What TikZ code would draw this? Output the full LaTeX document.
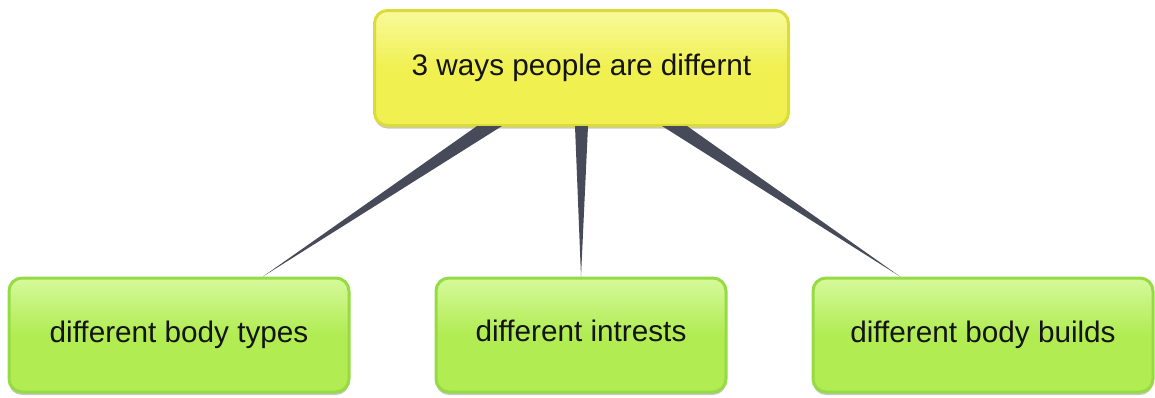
\documentclass[tikz,border=0pt]{standalone}
\usepackage{fontspec}
\setmainfont{Liberation Sans}
\usetikzlibrary{calc,shadows}
\definecolor{yfill}{HTML}{F0F050}
\definecolor{ytop}{HTML}{F9F99C}
\definecolor{yborder}{HTML}{DCDC38}
\definecolor{gfill}{HTML}{B0EC52}
\definecolor{gtop}{HTML}{D6F99C}
\definecolor{gborder}{HTML}{96DA44}
\definecolor{wedge}{HTML}{474A58}
\tikzset{
  box/.style={rounded corners=13pt, line width=3pt, inner sep=0pt, align=center,
    font=\fontsize{29.7}{34}\selectfont, text=black!92,
    drop shadow={shadow xshift=0pt, shadow yshift=-3pt, opacity=0.22, fill=black}},
  ybox/.style={box, draw=yborder, top color=ytop, bottom color=yfill, middle color=yfill},
  gbox/.style={box, draw=gborder, top color=gtop, bottom color=gfill, middle color=gfill},
  wedgefill/.style={fill=wedge}
}
\begin{document}
\begin{tikzpicture}[x=1pt,y=-1pt]
\useasboundingbox (0,0) rectangle (1155,397);
\node[ybox, minimum width=414pt, minimum height=115pt] (top) at (581.5,68) {3 ways people are differnt};
\node[gbox, minimum width=340pt, minimum height=114pt] (l) at (179,335) {different body types};
\node[gbox, minimum width=290pt, minimum height=114pt] (m) at (581,335) {\strut different intrests};
\node[gbox, minimum width=340pt, minimum height=114pt] (r) at (983,335) {different body builds};
\fill[wedgefill] ($(top.south)+(-104.5,-1)$) -- ($(top.south)+(-79.5,-1)$) -- ($(l.north)+(84,0)$) -- cycle;
\fill[wedgefill] ($(top.south)+(-6.5,-1)$) -- ($(top.south)+(6.5,-1)$) -- (m.north) -- cycle;
\fill[wedgefill] ($(top.south)+(80.5,-1)$) -- ($(top.south)+(105.5,-1)$) -- ($(r.north)+(-83,0)$) -- cycle;
\end{tikzpicture}
\end{document}
